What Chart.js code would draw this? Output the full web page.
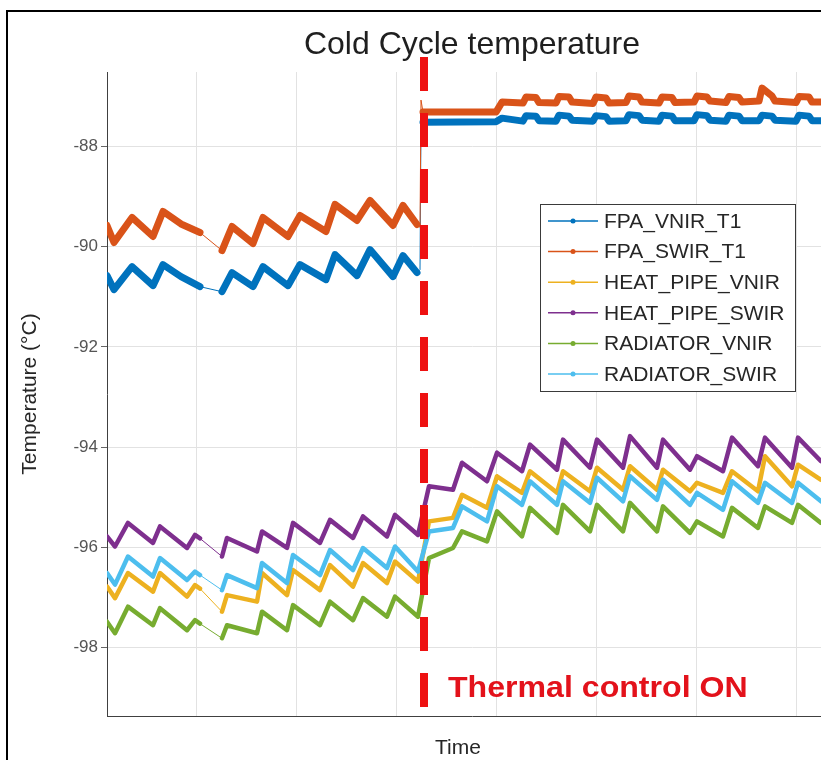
<!DOCTYPE html>
<html>
<head>
<meta charset="utf-8">
<title>Cold Cycle temperature</title>
<script src="https://cdn.jsdelivr.net/npm/chart.js@4.4.1/dist/chart.umd.min.js"></script>
<style>
  html, body { margin: 0; padding: 0; background: #fff; overflow: hidden; }
  #wrap { position: relative; width: 821px; height: 760px; overflow: hidden; }
  #chart-ciclo-frio { display: block; }
</style>
</head>
<body>
<div id="wrap">
  <canvas id="chart-ciclo-frio" width="840" height="760"></canvas>
</div>
<script>
// FPA sensors (time in min, temperature in °C)
const tempoFpa = [1.1, 1.8, 3.6, 5.7, 6.7, 8.5, 10.4, 12.6, 13.6, 15.7, 16.7, 19.2, 20.4, 23.0, 23.9, 26.1, 27.4, 29.7, 30.7, 32.1,
    32.4, 32.5, 32.7, 40.0, 40.6,
    42.7, 43.0, 44.0, 44.3, 46.0, 46.3, 47.3, 47.6, 49.7, 50.0, 51.0, 51.3, 53.0, 53.3, 54.3, 54.6,
    56.3, 56.6, 57.6, 57.9, 59.8, 60.1, 61.1, 61.4, 63.0, 63.3, 64.3, 64.6, 66.3, 66.6, 67.6, 67.9,
    70.0, 70.3, 71.3, 71.6, 73.3, 73.6, 74.1];
const fpaVnirT1 = [-90.58, -90.86, -90.40, -90.78, -90.36, -90.60, -90.80, -90.90, -90.52, -90.80, -90.40, -90.78, -90.36, -90.66, -90.16, -90.58, -90.06, -90.60, -90.18, -90.52,
    -90.46, -87.52, -87.52, -87.51, -87.44,
    -87.50, -87.39, -87.40, -87.49, -87.50, -87.38, -87.40, -87.48, -87.50, -87.39, -87.41, -87.50, -87.49, -87.37, -87.39, -87.48,
    -87.50, -87.38, -87.40, -87.49, -87.49, -87.37, -87.39, -87.48, -87.50, -87.38, -87.40, -87.49, -87.49, -87.38, -87.40, -87.48,
    -87.50, -87.38, -87.40, -87.49, -87.49, -87.38, -87.40];
const fpaSwirT1 = [-89.58, -89.92, -89.42, -89.80, -89.30, -89.55, -89.72, -90.08, -89.60, -89.94, -89.42, -89.80, -89.38, -89.70, -89.16, -89.48, -89.08, -89.58, -89.18, -89.56,
    -89.62, -87.08, -87.32, -87.32, -87.12,
    -87.14, -87.02, -87.03, -87.13, -87.14, -87.01, -87.02, -87.12, -87.15, -87.02, -87.04, -87.14, -87.13, -87.00, -87.02, -87.12,
    -87.14, -87.02, -87.03, -87.13, -87.12, -87.00, -87.02, -87.10, -87.13, -87.01, -87.03, -87.12, -87.10, -86.84, -87.00, -87.10,
    -87.13, -87.01, -87.02, -87.12, -87.12, -87.00, -87.02];

// Heat pipes and radiators share the same sampling
const tempoLoop = [1.1, 1.9, 3.2, 5.7, 6.4, 9.1, 9.9, 10.4, 12.6, 13.1, 16.1, 16.6, 19.1, 19.7, 22.4, 23.4, 25.7, 26.7, 29.1, 29.9, 32.2,
    33.3, 35.7, 36.6, 39.1, 40.1, 42.6, 43.4, 46.1, 46.7, 49.4, 50.1, 52.7, 53.4, 56.1, 56.7, 59.4, 60.1, 62.7, 63.6, 66.2, 66.9, 69.6, 70.2, 72.5, 74.1];
const heatPipeVnir = [-96.78, -97.01, -96.51, -96.88, -96.51, -96.98, -96.75, -96.82, -97.28, -96.95, -97.08, -96.51, -96.95, -96.45, -96.85, -96.35, -96.78, -96.31, -96.71, -96.28, -96.68,
    -95.48, -95.41, -94.95, -95.21, -94.58, -94.91, -94.48, -94.91, -94.48, -94.88, -94.41, -94.85, -94.38, -94.85, -94.45, -94.88, -94.71, -94.91, -94.48, -94.88, -94.18, -94.78, -94.35, -94.65, -94.80];
const heatPipeSwir = [-95.78, -95.98, -95.51, -95.91, -95.58, -96.01, -95.75, -95.82, -96.18, -95.81, -96.08, -95.68, -96.01, -95.51, -95.91, -95.45, -95.81, -95.38, -95.78, -95.35, -95.75,
    -94.78, -94.85, -94.31, -94.68, -94.11, -94.48, -93.95, -94.45, -93.85, -94.41, -93.85, -94.41, -93.78, -94.41, -93.85, -94.45, -94.18, -94.48, -93.81, -94.38, -93.81, -94.41, -93.81, -94.28, -94.40];
const radiatorVnir = [-97.48, -97.71, -97.18, -97.55, -97.21, -97.65, -97.45, -97.52, -97.81, -97.55, -97.71, -97.28, -97.65, -97.15, -97.55, -97.08, -97.45, -97.01, -97.38, -96.98, -97.38,
    -96.21, -96.01, -95.68, -95.88, -95.28, -95.78, -95.21, -95.71, -95.15, -95.68, -95.15, -95.68, -95.11, -95.68, -95.18, -95.71, -95.48, -95.78, -95.21, -95.61, -95.18, -95.51, -95.15, -95.51, -95.60];
const radiatorSwir = [-96.51, -96.74, -96.18, -96.58, -96.21, -96.65, -96.48, -96.55, -96.85, -96.55, -96.81, -96.31, -96.71, -96.15, -96.55, -96.05, -96.45, -96.01, -96.41, -95.98, -96.48,
    -95.68, -95.61, -95.18, -95.48, -94.78, -95.15, -94.68, -95.15, -94.68, -95.11, -94.61, -95.08, -94.58, -95.05, -94.65, -95.15, -94.91, -95.25, -94.68, -95.11, -94.71, -95.11, -94.71, -95.08, -95.20];

// Axes
const yTicks = [-98, -96, -94, -92, -90, -88];
const xGrid = [10, 20, 30, 40, 50, 60, 70];
const yRange = [-99.36, -86.52];
const xRange = [1.1, 74.1];

// Events
const thermalOnTime = 32.8;
const thermalOnSpan = [-86.22, -99.18];
const dataGaps = [[10.4, 12.6]];          // logger dropout
const fpaSwitchover = [[32.1, 32.7]];     // FPA transient when control starts

const FONTE = '"Liberation Sans", Arial, sans-serif';
Chart.defaults.font.family = FONTE;

/**
 * Thin segments where samples are missing
 */
function larguraSegmento(base, faixas) {
    return (ctx) => {
        const a = ctx.p0.parsed.x;
        const b = ctx.p1.parsed.x;
        return faixas.some(([ini, fim]) => a >= ini && b <= fim) ? 1 : base;
    };
}

function serie(label, tempos, valores, cor, largura, faixas, ordem) {
    return {
        label: label,
        data: tempos.map((t, i) => ({ x: t, y: valores[i] })),
        borderColor: cor,
        backgroundColor: cor,
        borderWidth: largura,
        segment: { borderWidth: larguraSegmento(largura, faixas) },
        borderJoinStyle: 'round',
        borderCapStyle: 'round',
        pointRadius: 0,
        tension: 0,
        order: ordem
    };
}

/**
 * Outer frame
 */
const moldura = {
    id: 'moldura',
    beforeDraw(chart) {
        const ctx = chart.ctx;
        ctx.save();
        ctx.strokeStyle = '#000';
        ctx.lineWidth = 2;
        ctx.strokeRect(7, 11, 1000, 1000);
        ctx.restore();
    }
};

/**
 * Legend box inside the plot
 */
const legendaInterna = {
    id: 'legendaInterna',
    afterDraw(chart) {
        const ctx = chart.ctx;
        const series = chart.data.datasets.filter(d => !d.marcador);
        ctx.save();
        ctx.fillStyle = '#fff';
        ctx.fillRect(540, 204, 255, 187);
        ctx.strokeStyle = '#3a3a3a';
        ctx.lineWidth = 1;
        ctx.strokeRect(540.5, 204.5, 255, 187);
        ctx.font = '21px ' + FONTE;
        ctx.textBaseline = 'middle';
        series.forEach((d, i) => {
            const y = 221 + i * 30.6;
            ctx.strokeStyle = d.borderColor;
            ctx.lineWidth = 1.5;
            ctx.beginPath();
            ctx.moveTo(548, y);
            ctx.lineTo(598, y);
            ctx.stroke();
            ctx.fillStyle = d.borderColor;
            ctx.beginPath();
            ctx.arc(573, y, 2.5, 0, Math.PI * 2);
            ctx.fill();
            ctx.fillStyle = '#262626';
            ctx.fillText(d.label, 604, y + 1);
        });
        ctx.restore();
    }
};

/**
 * Annotation and x label
 */
const anotacoes = {
    id: 'anotacoes',
    afterDraw(chart) {
        const ctx = chart.ctx;
        const xOn = chart.scales.x.getPixelForValue(thermalOnTime);
        ctx.save();
        ctx.fillStyle = '#e3121b';
        ctx.font = 'bold 30px ' + FONTE;
        ctx.textBaseline = 'alphabetic';
        // slightly wide lettering
        ctx.translate(xOn + 24, 697);
        ctx.scale(1.07, 1);
        ctx.fillText('Thermal control ON', 0, 0);
        ctx.restore();

        ctx.save();
        ctx.fillStyle = '#262626';
        ctx.font = '21px ' + FONTE;
        ctx.textAlign = 'center';
        ctx.textBaseline = 'middle';
        ctx.fillText('Time', 458, 748);
        ctx.restore();
    }
};

const chartCicloFrio = new Chart(document.getElementById('chart-ciclo-frio'), {
    type: 'line',
    data: {
        datasets: [
            {
                label: 'Thermal control ON',
                marcador: true,
                data: thermalOnSpan.map(v => ({ x: thermalOnTime, y: v })),
                borderColor: '#ee1111',
                borderWidth: 8,
                borderDash: [34, 22],
                borderCapStyle: 'butt',
                pointRadius: 0,
                clip: false,
                order: 0
            },
            serie('FPA_VNIR_T1', tempoFpa, fpaVnirT1, '#0072BD', 7, dataGaps.concat(fpaSwitchover), 6),
            serie('FPA_SWIR_T1', tempoFpa, fpaSwirT1, '#D95319', 7, dataGaps.concat(fpaSwitchover), 5),
            serie('HEAT_PIPE_VNIR', tempoLoop, heatPipeVnir, '#EDB120', 4.5, dataGaps, 4),
            serie('HEAT_PIPE_SWIR', tempoLoop, heatPipeSwir, '#7E2F8E', 4.5, dataGaps, 3),
            serie('RADIATOR_VNIR', tempoLoop, radiatorVnir, '#77AC30', 4.5, dataGaps, 2),
            serie('RADIATOR_SWIR', tempoLoop, radiatorSwir, '#4DBEEE', 4.5, dataGaps, 1)
        ]
    },
    options: {
        responsive: false,
        animation: false,
        events: [],
        layout: { padding: { top: 0, left: 0, right: 3, bottom: 0 } },
        plugins: {
            legend: { display: false },
            tooltip: { enabled: false },
            title: {
                display: true,
                text: 'Cold Cycle temperature',
                fullSize: false,
                color: '#1f1f1f',
                font: { size: 32, weight: 'normal' },
                padding: { top: 26, bottom: 7.6 }
            }
        },
        scales: {
            x: {
                type: 'linear',
                min: xRange[0],
                max: xRange[1],
                afterBuildTicks: (scale) => { scale.ticks = xGrid.map(v => ({ value: v })); },
                afterFit: (scale) => { scale.height = 44; },
                ticks: { display: false },
                grid: { color: '#e2e2e2', drawTicks: false },
                border: { display: true, color: '#404040', width: 1 }
            },
            y: {
                min: yRange[0],
                max: yRange[1],
                afterBuildTicks: (scale) => { scale.ticks = yTicks.map(v => ({ value: v })); },
                afterFit: (scale) => { scale.width = 107; },
                ticks: { color: '#555', font: { size: 17 }, padding: 3 },
                grid: { color: '#e2e2e2', tickColor: '#666', tickLength: 6 },
                border: { display: true, color: '#404040', width: 1 },
                title: {
                    display: true,
                    text: 'Temperature (°C)',
                    color: '#262626',
                    font: { size: 21 },
                    padding: { top: 17.4, bottom: 0 }
                }
            }
        }
    },
    plugins: [moldura, legendaInterna, anotacoes]
});
</script>
</body>
</html>
